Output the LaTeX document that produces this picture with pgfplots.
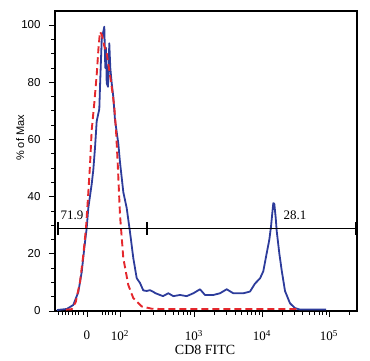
\documentclass[border=0pt]{standalone}
\usepackage{fontspec}
\setmainfont{Liberation Serif}
\newfontfamily\sansf{Liberation Sans}
\usepackage{pgfplots}
\pgfplotsset{compat=1.18}
\definecolor{cdblue}{RGB}{45,60,155}
\definecolor{cdred}{RGB}{228,40,45}
\begin{document}
\begin{tikzpicture}
\begin{axis}[
  width=302pt, height=300pt, scale only axis,
  xmin=55, xmax=357, ymin=0, ymax=104.9,
  clip=false,
  axis line style={black, line width=1.2pt},
  tick style={black, line width=0.8pt},
  major tick length=6pt, minor tick length=3.5pt,
  tick align=outside,
  xtick pos=bottom, ytick pos=left,
  xtick={87,120,194,262,329},
  xticklabels={0,10\textsuperscript{2},10\textsuperscript{3},10\textsuperscript{4},10\textsuperscript{5}},
  minor xtick={58,62,65,68,72,75,78,83,102,105,108,112,115,140,153,165,173,178,183,187,190.6,214.5,226.4,235,241.5,246.9,251.5,255.4,258.9,282,294,302,309,314,319,322.5,326,349},
  xticklabel style={font=\fontsize{13}{13}\selectfont, yshift=-10pt},
  ytick={0,20,40,60,80,100},
  minor y tick num=3,
  yticklabel style={font=\sansf\fontsize{11.5}{11.5}\selectfont, xshift=-5pt},
  /pgf/number format/assume math mode=true,
  ylabel={\% of Max},
  ylabel style={at={(axis description cs:-0.115,0.577)}, anchor=center, font=\sansf\fontsize{11}{11}\selectfont},
  xlabel={CD8 FITC},
  xlabel style={at={(axis description cs:0.497,-0.13)}, anchor=center, font=\fontsize{14}{14}\selectfont},
]
\addplot[cdblue, line width=1.8pt, line join=round] coordinates {
(57,0.3) (58.3,0.4) (66.7,0.7) (73.3,2.1) (78.3,6.6) (81.7,13.6) (84.3,22.0)
(86.7,29.0) (88.3,36.0) (91.7,44.4) (93.3,49.3) (95,57.0) (96.7,66.4)
(99.3,70.6) (100,78.3) (101.7,94.8) (104.3,99.4) (105.3,85) (106,92)
(106.7,79.7) (108,78.4) (109.3,93.6) (110.3,85) (111.7,79.7) (113.3,74.9)
(115,66.8) (118.3,58.6) (120,52) (123.3,41.6) (126.7,36.0) (130,27.6)
(133.3,18.5) (136.7,11.5) (140,9.8) (143.3,7.2) (146.7,7.0) (150,7.3)
(153.3,6.7) (155,6.3) (160,5.6) (163,5.2) (168.3,6.2) (173.3,5.2)
(180,5.6) (186.7,5.2) (193.3,6.2) (200,7.6) (205,5.6) (213.3,5.6)
(220,6.2) (226.7,7.6) (233.3,6.2) (243.3,6.2) (250,6.8) (255,9.6)
(260,11.4) (263.3,13.9) (266.7,20.2) (269.3,24.9) (271,29.5) (272.3,34.2)
(273.3,37.7) (274.3,37.5) (275.7,32.6) (276.7,28.0) (279.3,20.2)
(281.7,14.2) (285,7.0) (290,2.7) (295,1.0) (300,0.5) (310,0.5) (326,0.5)
};
\addplot[cdred, line width=1.9pt, dash pattern=on 7pt off 4pt] coordinates {
(66,0.5) (71.7,0.6) (75.7,3.1) (80,10.1) (83.3,19.6) (86,29.0) (88.3,41.3)
(90,51.0) (91.7,63.3) (94.3,72.7) (96.7,82.6) (98.5,92) (100,97.6)
(102,96.5) (104,93) (106.7,90.2) (111.7,78.4) (114.3,71.4) (116,63.3)
(117.7,51.7) (120,33.6) (123.3,18.5) (128.3,9.1) (133.3,4.5) (141.7,1.6)
(151.7,0.8) (160,0.7) (297,0.7)
};
\addplot[black, line width=1.2pt, mark=|, mark size=6.5pt, mark options={solid, line width=1.2pt}] coordinates {
(58,28.9) (147,28.9) (356,28.9)
};
\node[font=\fontsize{13}{13}\selectfont] at (axis cs:72,33.6) {71.9};
\node[font=\fontsize{13}{13}\selectfont] at (axis cs:295,33.6) {28.1};
\end{axis}
\pgfresetboundingbox
\path ([shift={(-55pt,-49pt)}]current axis.south west) rectangle ([shift={(315pt,311pt)}]current axis.south west);
\end{tikzpicture}
\end{document}
